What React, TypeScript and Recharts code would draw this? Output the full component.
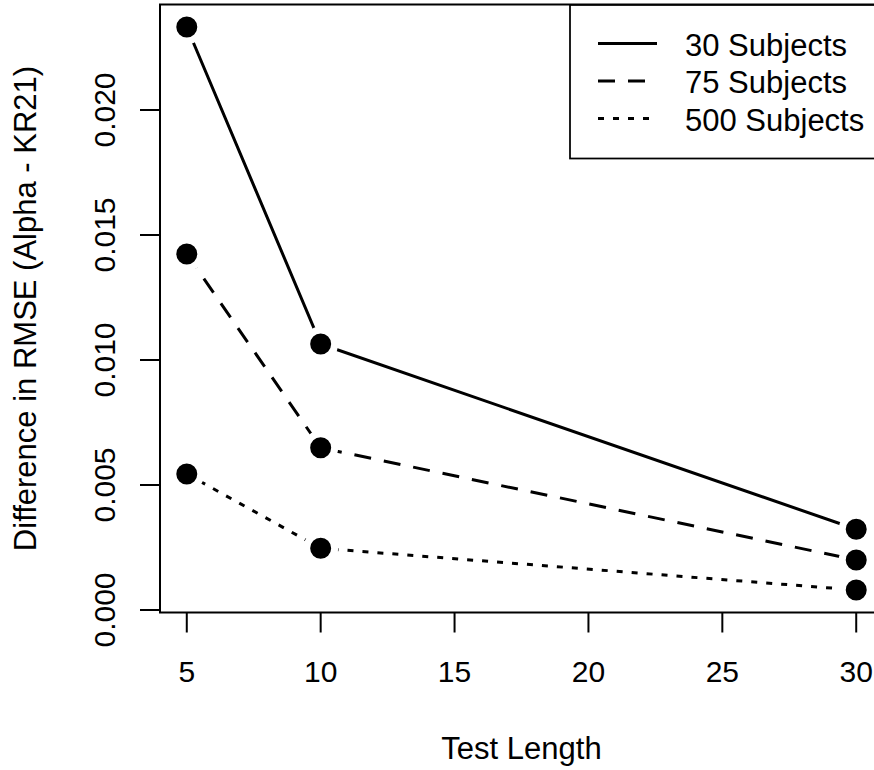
import React from 'react';
import {
  LineChart,
  Line,
  XAxis,
  YAxis,
  Legend,
  ReferenceArea,
} from 'recharts';

// Test lengths on the x axis
const testLengths = [5, 10, 30];

// Difference in RMSE (Alpha - KR21) per sample size
const subjects30 = [0.02332, 0.01064, 0.00323];
const subjects75 = [0.01424, 0.00649, 0.002];
const subjects500 = [0.00544, 0.00247, 0.0008];

const xTicks = [5, 10, 15, 20, 25, 30];
const yTicks = [0, 0.005, 0.01, 0.015, 0.02];

// R-style 4% padding around the data range
const xDomain: [number, number] = [4, 31];
const yDomain: [number, number] = [-0.0001, 0.02422];

const seriesNames = ['30 Subjects', '75 Subjects', '500 Subjects'];

const series = [
  { key: 's30', name: seriesNames[0], dash: undefined as string | undefined },
  { key: 's75', name: seriesNames[1], dash: '17 13' },
  { key: 's500', name: seriesNames[2], dash: '6 9' },
];

const data = testLengths.map((len, i) => ({
  length: len,
  s30: subjects30[i],
  s75: subjects75[i],
  s500: subjects500[i],
}));

const FONT = '"Liberation Sans", Arial, Helvetica, sans-serif';

const YTick = (props: any) => {
  const { y, payload } = props;
  const bx = 115;
  return (
    <text
      x={bx}
      y={y}
      transform={`rotate(-90, ${bx}, ${y})`}
      textAnchor="middle"
      fontSize={30}
      fill="#000"
      fontFamily={FONT}
    >
      {Number(payload.value).toFixed(3)}
    </text>
  );
};

const XTitle = () => (
  <text x={521.5} y={759} textAnchor="middle" fontSize={31} fill="#000" fontFamily={FONT}>
    Test Length
  </text>
);

const YTitle = () => (
  <text
    x={36}
    y={308.5}
    transform="rotate(-90, 36, 308.5)"
    textAnchor="middle"
    fontSize={31}
    fill="#000"
    fontFamily={FONT}
  >
    Difference in RMSE (Alpha - KR21)
  </text>
);

const renderLegend = () => (
  <svg width={340} height={158} style={{ display: 'block' }}>
    <rect x={1} y={1} width={313} height={153.5} fill="#fff" stroke="#000" strokeWidth={1.75} />
    {series.map((s, i) => {
      const ly = 39.5 + i * 37.5;
      return (
        <g key={s.key}>
          <line
            x1={29}
            x2={88}
            y1={ly}
            y2={ly}
            stroke="#000"
            strokeWidth={3}
            strokeDasharray={s.dash}
          />
          <text x={116} y={ly + 12} fontSize={31} fill="#000" fontFamily={FONT}>
            {s.name}
          </text>
        </g>
      );
    })}
  </svg>
);

export default function App() {
  return (
    <div
      style={{
        position: 'fixed',
        top: 0,
        left: 0,
        width: 874,
        height: 770,
        overflow: 'hidden',
        background: '#fff',
      }}
    >
      <LineChart
        width={900}
        height={770}
        data={data}
        margin={{ top: 4.5, right: 17, left: 100, bottom: 97.5 }}
        style={{ fontFamily: FONT }}
      >
        <XAxis
          dataKey="length"
          type="number"
          domain={xDomain}
          ticks={xTicks}
          allowDataOverflow
          height={60}
          axisLine={false}
          tickSize={20}
          tickMargin={28}
          tickLine={{ stroke: '#000', strokeWidth: 2 }}
          tick={{ fill: '#000', fontSize: 30, fontFamily: FONT }}
          label={<XTitle />}
        />
        <YAxis
          type="number"
          domain={yDomain}
          ticks={yTicks}
          allowDataOverflow
          width={60}
          axisLine={false}
          tickSize={20}
          tickLine={{ stroke: '#000', strokeWidth: 2 }}
          tick={<YTick />}
          label={<YTitle />}
        />
        <ReferenceArea
          x1={xDomain[0]}
          x2={xDomain[1]}
          y1={yDomain[0]}
          y2={yDomain[1]}
          fill="none"
          fillOpacity={0}
          stroke="#000"
          strokeWidth={2}
          ifOverflow="visible"
        />
        {series.map((s) => (
          <Line
            key={s.key}
            dataKey={s.key}
            name={s.name}
            type="linear"
            stroke="#000"
            strokeWidth={3}
            strokeDasharray={s.dash}
            dot={{ r: 14, fill: '#000', stroke: '#fff', strokeWidth: 7, strokeDasharray: 'none' }}
            activeDot={false}
            isAnimationActive={false}
          />
        ))}
        <Legend
          layout="vertical"
          align="center"
          verticalAlign="middle"
          content={renderLegend}
          wrapperStyle={{ top: 3.5, left: 569, width: 340, height: 158 }}
        />
      </LineChart>
    </div>
  );
}
